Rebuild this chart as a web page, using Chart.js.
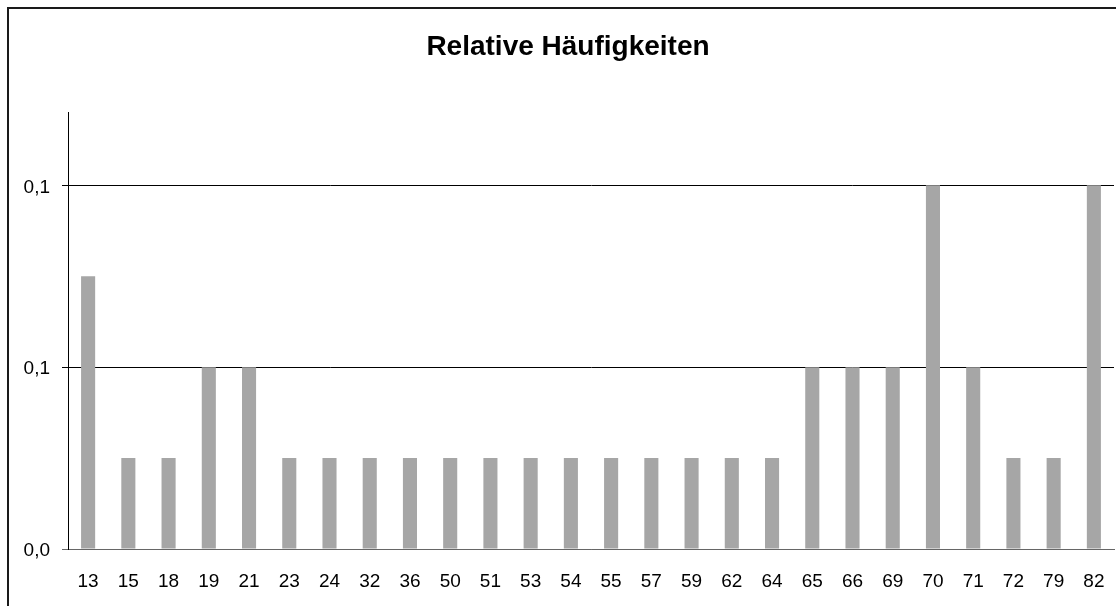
<!DOCTYPE html>
<html>
<head>
<meta charset="utf-8">
<script src="https://cdn.jsdelivr.net/npm/chart.js@4/dist/chart.umd.min.js"></script>
<style>
  html, body { margin: 0; padding: 0; background: #fff; overflow: hidden; }
  #wrap { position: relative; width: 1116px; height: 606px; overflow: hidden; }
  #frame { position: absolute; left: 7px; top: 7px; width: 1300px; height: 800px; border: 2px solid #1a1a1a; box-sizing: border-box; pointer-events: none; }
  canvas { position: absolute; left: 0; top: 0; }
</style>
</head>
<body>
<div id="wrap">
  <canvas id="c" width="1116" height="606"></canvas>
  <div id="frame"></div>
</div>
<script>
const titleText = "Relative Häufigkeiten";
const categories = ["13","15","18","19","21","23","24","32","36","50","51","53","54","55","57","59","62","64","65","66","69","70","71","72","79","82"];
const relFreq = [0.075,0.025,0.025,0.05,0.05,0.025,0.025,0.025,0.025,0.025,0.025,0.025,0.025,0.025,0.025,0.025,0.025,0.025,0.05,0.05,0.05,0.1,0.05,0.025,0.025,0.1];
const yMin = 0, yMax = 0.12, yStep = 0.05;

const fontFamily = "'Liberation Sans', Arial, sans-serif";

new Chart(document.getElementById('c'), {
  type: 'bar',
  data: {
    labels: categories,
    datasets: [{
      data: relFreq,
      backgroundColor: '#a6a6a6',
      borderWidth: 0,
      barPercentage: 0.35,
      categoryPercentage: 1.0
    }]
  },
  options: {
    responsive: false,
    animation: false,
    layout: { padding: { left: 22, right: 2, top: 0, bottom: 0 } },
    plugins: {
      legend: { display: false },
      tooltip: { enabled: false },
      title: {
        display: true,
        text: titleText,
        color: '#000',
        font: { family: fontFamily, size: 28, weight: 'bold', lineHeight: 1.2 },
        padding: { top: 30, bottom: 49 }
      }
    },
    scales: {
      x: {
        grid: { display: false },
        border: { display: true, color: '#666', width: 1 },
        ticks: {
          color: '#000',
          font: { family: fontFamily, size: 19 },
          padding: 13,
          maxRotation: 0,
          autoSkip: false
        },
        afterFit: s => { s.height = 57; s.paddingLeft = 0; s.paddingRight = 0; }
      },
      y: {
        min: yMin,
        max: yMax,
        grid: {
          color: ctx => (ctx.tick && ctx.tick.value === 0) ? '#666' : '#000',
          lineWidth: 1,
          drawTicks: true,
          tickLength: 6
        },
        border: { display: true, color: '#000', width: 1 },
        ticks: {
          stepSize: yStep,
          includeBounds: false,
          color: '#000',
          font: { family: fontFamily, size: 19 },
          padding: 12,
          labelOffset: 2,
          callback: v => v.toFixed(1).replace('.', ',')
        },
        afterFit: s => { s.width = 46; s.paddingTop = 0; s.paddingBottom = 0; }
      }
    }
  }
});
</script>
</body>
</html>
